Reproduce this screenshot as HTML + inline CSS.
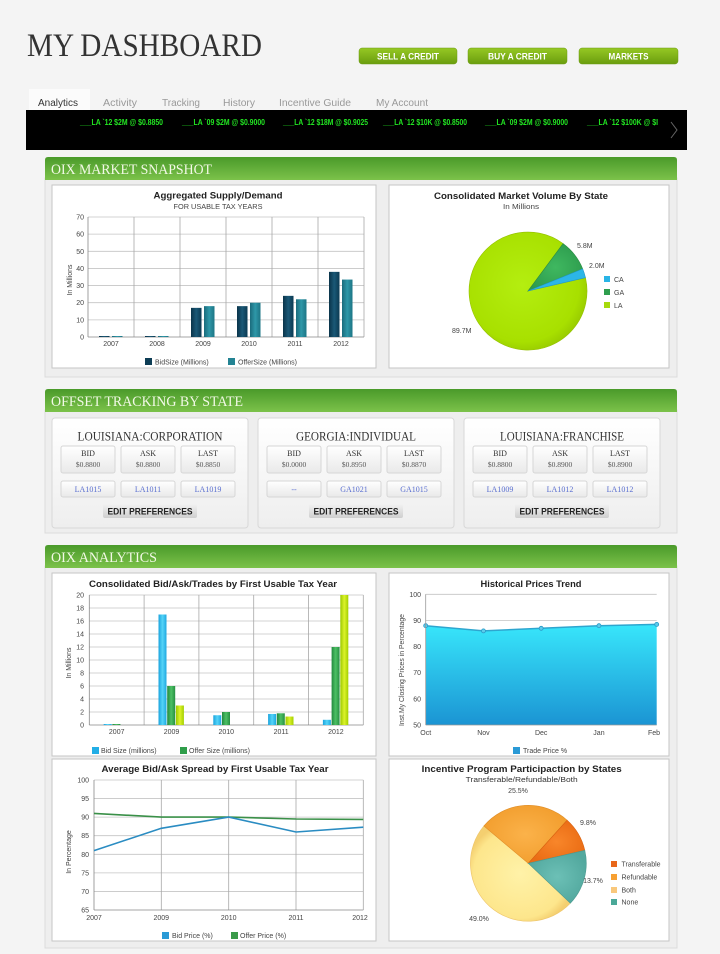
<!DOCTYPE html>
<html><head><meta charset="utf-8"><title>My Dashboard</title>
<style>
html,body{margin:0;padding:0;background:#f4f4f4;}
body{width:720px;height:954px;overflow:hidden;}
svg{display:block;}
.s{font-family:"Liberation Sans",Arial,sans-serif;}
.r{font-family:"Liberation Serif","Times New Roman",serif;}
.tk{font-family:"Liberation Sans",Arial,sans-serif;font-size:7px;fill:#444;}
.ct{font-family:"Liberation Sans",Arial,sans-serif;font-size:9.5px;font-weight:bold;fill:#222;}
</style></head>
<body>
<svg width="720" height="954" viewBox="0 0 720 954" xmlns="http://www.w3.org/2000/svg">
<defs>
<linearGradient id="hdr" x1="0" y1="0" x2="0" y2="1"><stop offset="0" stop-color="#4a9a2a"/><stop offset="1" stop-color="#7cc24a"/></linearGradient>
<linearGradient id="btn" x1="0" y1="0" x2="0" y2="1"><stop offset="0" stop-color="#96c824"/><stop offset="1" stop-color="#6a9d0e"/></linearGradient>
<linearGradient id="card" x1="0" y1="0" x2="0" y2="1"><stop offset="0" stop-color="#ffffff"/><stop offset="1" stop-color="#eeeeee"/></linearGradient>
<linearGradient id="mini" x1="0" y1="0" x2="0" y2="1"><stop offset="0" stop-color="#ffffff"/><stop offset="1" stop-color="#e9e9e9"/></linearGradient>
<linearGradient id="edit" x1="0" y1="0" x2="0" y2="1"><stop offset="0" stop-color="#f2f2f2"/><stop offset="1" stop-color="#cfcfcf"/></linearGradient>
<linearGradient id="area" x1="0" y1="0" x2="0" y2="1"><stop offset="0" stop-color="#38e6fb"/><stop offset="1" stop-color="#1b94d3"/></linearGradient>
<linearGradient id="gNavy" x1="0" y1="0" x2="1" y2="0"><stop offset="0" stop-color="#0a344a"/><stop offset="0.5" stop-color="#1a5876"/><stop offset="1" stop-color="#0b3a52"/></linearGradient>
<linearGradient id="gTeal" x1="0" y1="0" x2="1" y2="0"><stop offset="0" stop-color="#1a6b7c"/><stop offset="0.5" stop-color="#2e97a8"/><stop offset="1" stop-color="#1d7585"/></linearGradient>
<linearGradient id="gCyan" x1="0" y1="0" x2="1" y2="0"><stop offset="0" stop-color="#1aa3dd"/><stop offset="0.5" stop-color="#55d4f8"/><stop offset="1" stop-color="#1ea8e0"/></linearGradient>
<linearGradient id="gGreen" x1="0" y1="0" x2="1" y2="0"><stop offset="0" stop-color="#23893e"/><stop offset="0.5" stop-color="#4cc064"/><stop offset="1" stop-color="#268f42"/></linearGradient>
<linearGradient id="gYel" x1="0" y1="0" x2="1" y2="0"><stop offset="0" stop-color="#9cc800"/><stop offset="0.5" stop-color="#dcf22a"/><stop offset="1" stop-color="#a3cf00"/></linearGradient>
<radialGradient id="pLA" cx="0.45" cy="0.45" r="0.6"><stop offset="0" stop-color="#b4ee10"/><stop offset="0.8" stop-color="#a8e000"/><stop offset="1" stop-color="#94c600"/></radialGradient>
<radialGradient id="pGA" cx="0.5" cy="0.5" r="0.6"><stop offset="0" stop-color="#3fb860"/><stop offset="1" stop-color="#2c9a4c"/></radialGradient>
<radialGradient id="pBoth" cx="0.5" cy="0.5" r="0.55"><stop offset="0" stop-color="#fff2a8"/><stop offset="0.85" stop-color="#fde68c"/><stop offset="1" stop-color="#f4cf70"/></radialGradient>
<radialGradient id="pRef" cx="0.5" cy="0.5" r="0.55"><stop offset="0" stop-color="#fbb24a"/><stop offset="1" stop-color="#f29e2e"/></radialGradient>
<radialGradient id="pTr" cx="0.5" cy="0.5" r="0.55"><stop offset="0" stop-color="#f8862a"/><stop offset="1" stop-color="#ea6c14"/></radialGradient>
<radialGradient id="pNone" cx="0.5" cy="0.5" r="0.55"><stop offset="0" stop-color="#6cc0b6"/><stop offset="1" stop-color="#52a89e"/></radialGradient>
<clipPath id="tick"><rect x="26" y="110" width="640" height="40"/></clipPath>
</defs>

<rect x="0" y="0" width="720" height="954" fill="#f4f4f4"/>

<!-- Title -->
<text x="27" y="56" class="r" font-size="33" fill="#333" textLength="235" lengthAdjust="spacingAndGlyphs">MY DASHBOARD</text>

<!-- Buttons -->
<rect x="359" y="48" width="98" height="16" rx="3" fill="url(#btn)" stroke="#6b9a12" stroke-width="0.5"/>
<rect x="468" y="48" width="99" height="16" rx="3" fill="url(#btn)" stroke="#6b9a12" stroke-width="0.5"/>
<rect x="579" y="48" width="99" height="16" rx="3" fill="url(#btn)" stroke="#6b9a12" stroke-width="0.5"/>
<g class="s" font-size="9" font-weight="bold" fill="#fff" text-anchor="middle">
<text x="408" y="59.5" textLength="62" lengthAdjust="spacingAndGlyphs">SELL A CREDIT</text>
<text x="517.5" y="59.5" textLength="59" lengthAdjust="spacingAndGlyphs">BUY A CREDIT</text>
<text x="628.5" y="59.5" textLength="40" lengthAdjust="spacingAndGlyphs">MARKETS</text>
</g>

<!-- Tabs -->
<rect x="29" y="89" width="61" height="22" fill="#fbfbfb"/>
<g class="s" font-size="10">
<text x="38" y="106" fill="#333" textLength="40" lengthAdjust="spacingAndGlyphs">Analytics</text>
<text x="103" y="106" fill="#999" textLength="34" lengthAdjust="spacingAndGlyphs">Activity</text>
<text x="162" y="106" fill="#999" textLength="38" lengthAdjust="spacingAndGlyphs">Tracking</text>
<text x="223" y="106" fill="#999" textLength="32" lengthAdjust="spacingAndGlyphs">History</text>
<text x="279" y="106" fill="#999" textLength="72" lengthAdjust="spacingAndGlyphs">Incentive Guide</text>
<text x="376" y="106" fill="#999" textLength="52" lengthAdjust="spacingAndGlyphs">My Account</text>
</g>

<!-- Ticker -->
<rect x="26" y="110" width="661" height="40" fill="#000"/>
<g class="s" font-size="8.5" font-weight="bold" fill="#22e622" clip-path="url(#tick)">
<text x="80" y="125" textLength="83" lengthAdjust="spacingAndGlyphs">___LA `12 $2M @ $0.8850</text>
<text x="182" y="125" textLength="83" lengthAdjust="spacingAndGlyphs">___LA `09 $2M @ $0.9000</text>
<text x="283" y="125" textLength="85" lengthAdjust="spacingAndGlyphs">___LA `12 $18M @ $0.9025</text>
<text x="383" y="125" textLength="84" lengthAdjust="spacingAndGlyphs">___LA `12 $10K @ $0.8500</text>
<text x="485" y="125" textLength="83" lengthAdjust="spacingAndGlyphs">___LA `09 $2M @ $0.9000</text>
<text x="587" y="125" textLength="71" lengthAdjust="spacingAndGlyphs">___LA `12 $100K @ $I</text>
</g>
<polyline points="671,122 677,130 671,138" fill="none" stroke="#666" stroke-width="1"/>

<!-- ========== PANEL 1 ========== -->
<rect x="45" y="178" width="632" height="199" fill="#eeeeee" stroke="#dcdcdc"/>
<path d="M45,180 V160 Q45,157 48,157 H674 Q677,157 677,160 V180 Z" fill="url(#hdr)"/>
<text x="51" y="174" class="r" font-size="15" fill="#f2f9e6" textLength="161" lengthAdjust="spacingAndGlyphs">OIX MARKET SNAPSHOT</text>

<!-- Chart A -->
<rect x="52" y="185" width="324" height="183" fill="#fff" stroke="#c6c6c6"/>
<text x="218" y="198.5" class="ct" text-anchor="middle" textLength="129" lengthAdjust="spacingAndGlyphs">Aggregated Supply/Demand</text>
<text x="218" y="209" class="s" font-size="7" fill="#444" text-anchor="middle" textLength="89" lengthAdjust="spacingAndGlyphs">FOR USABLE TAX YEARS</text>
<g stroke="#c4c4c4" stroke-width="0.8">
<line x1="88" y1="217" x2="364" y2="217"/><line x1="88" y1="234.14" x2="364" y2="234.14"/><line x1="88" y1="251.29" x2="364" y2="251.29"/><line x1="88" y1="268.43" x2="364" y2="268.43"/><line x1="88" y1="285.57" x2="364" y2="285.57"/><line x1="88" y1="302.71" x2="364" y2="302.71"/><line x1="88" y1="319.86" x2="364" y2="319.86"/>
</g>
<g stroke="#a8a8a8" stroke-width="0.8">
<line x1="134" y1="217" x2="134" y2="337"/><line x1="180" y1="217" x2="180" y2="337"/><line x1="226" y1="217" x2="226" y2="337"/><line x1="272" y1="217" x2="272" y2="337"/><line x1="318" y1="217" x2="318" y2="337"/><line x1="364" y1="217" x2="364" y2="337"/>
</g>
<line x1="88" y1="217" x2="88" y2="337" stroke="#888" stroke-width="0.8"/>
<line x1="88" y1="337" x2="364" y2="337" stroke="#888" stroke-width="0.8"/>
<g class="tk" text-anchor="end">
<text x="84" y="339.5">0</text><text x="84" y="322.4">10</text><text x="84" y="305.2">20</text><text x="84" y="288.1">30</text><text x="84" y="270.9">40</text><text x="84" y="253.8">50</text><text x="84" y="236.6">60</text><text x="84" y="219.5">70</text>
</g>
<text transform="translate(72,280) rotate(-90)" class="tk" text-anchor="middle" font-size="6.5">In Millions</text>
<g>
<rect x="99" y="336" width="10.5" height="1" fill="url(#gNavy)"/><rect x="112" y="336" width="10.5" height="1" fill="url(#gTeal)"/>
<rect x="145" y="336" width="10.5" height="1" fill="url(#gNavy)"/><rect x="158" y="336" width="10.5" height="1" fill="url(#gTeal)"/>
<rect x="191" y="307.86" width="10.5" height="29.14" fill="url(#gNavy)"/><rect x="204" y="306.14" width="10.5" height="30.86" fill="url(#gTeal)"/>
<rect x="237" y="306.14" width="10.5" height="30.86" fill="url(#gNavy)"/><rect x="250" y="302.71" width="10.5" height="34.29" fill="url(#gTeal)"/>
<rect x="283" y="295.86" width="10.5" height="41.14" fill="url(#gNavy)"/><rect x="296" y="299.29" width="10.5" height="37.71" fill="url(#gTeal)"/>
<rect x="329" y="271.86" width="10.5" height="65.14" fill="url(#gNavy)"/><rect x="342" y="279.57" width="10.5" height="57.43" fill="url(#gTeal)"/>
</g>
<g class="tk" text-anchor="middle">
<text x="111" y="346">2007</text><text x="157" y="346">2008</text><text x="203" y="346">2009</text><text x="249" y="346">2010</text><text x="295" y="346">2011</text><text x="341" y="346">2012</text>
</g>
<rect x="145" y="358" width="7" height="7" fill="#0d3d55"/>
<text x="155" y="364.5" class="tk" font-size="6.5">BidSize (Millions)</text>
<rect x="228" y="358" width="7" height="7" fill="#238393"/>
<text x="238" y="364.5" class="tk" font-size="6.5">OfferSize (Millions)</text>

<!-- Chart B -->
<rect x="389" y="185" width="280" height="183" fill="#fff" stroke="#c6c6c6"/>
<text x="521" y="199" class="ct" text-anchor="middle" textLength="174" lengthAdjust="spacingAndGlyphs">Consolidated Market Volume By State</text>
<text x="521" y="209" class="s" font-size="7" fill="#444" text-anchor="middle" textLength="36" lengthAdjust="spacingAndGlyphs">In Millions</text>
<path d="M528,291 L563.1,243.6 A59,59 0 1 0 585.5,277.7 Z" fill="url(#pLA)" stroke="#94c000" stroke-width="0.6"/>
<path d="M528,291 L582.7,268.9 A59,59 0 0 0 563.1,243.6 Z" fill="url(#pGA)" stroke="#2a8c44" stroke-width="0.6"/>
<path d="M528,291 L585.5,277.7 A59,59 0 0 0 582.7,268.9 Z" fill="#2cb6e8" stroke="#2298c8" stroke-width="0.6"/>
<g class="tk" font-size="6.5">
<text x="577" y="248">5.8M</text><text x="589" y="268">2.0M</text><text x="452" y="333">89.7M</text>
</g>
<rect x="604" y="276" width="6" height="6" fill="#29b4e6"/>
<rect x="604" y="289" width="6" height="6" fill="#2f9e4e"/>
<rect x="604" y="302" width="6" height="6" fill="#a6da0c"/>
<g class="tk" font-size="6.5">
<text x="614" y="282">CA</text><text x="614" y="295">GA</text><text x="614" y="308">LA</text>
</g>

<!-- ========== PANEL 2 ========== -->
<rect x="45" y="410" width="632" height="123" fill="#eeeeee" stroke="#dcdcdc"/>
<path d="M45,412 V392 Q45,389 48,389 H674 Q677,389 677,392 V412 Z" fill="url(#hdr)"/>
<text x="51" y="406" class="r" font-size="15" fill="#f2f9e6" textLength="192" lengthAdjust="spacingAndGlyphs">OFFSET TRACKING BY STATE</text>

<!-- Card 1 -->
<g>
<rect x="52" y="418" width="196" height="110" rx="3" fill="url(#card)" stroke="#d8d8d8"/>
<text x="150" y="440.5" class="r" font-size="12.5" fill="#333" text-anchor="middle" textLength="145" lengthAdjust="spacingAndGlyphs">LOUISIANA:CORPORATION</text>
<rect x="61" y="446" width="54" height="27" rx="2" fill="url(#mini)" stroke="#d6d6d6"/>
<rect x="121" y="446" width="54" height="27" rx="2" fill="url(#mini)" stroke="#d6d6d6"/>
<rect x="181" y="446" width="54" height="27" rx="2" fill="url(#mini)" stroke="#d6d6d6"/>
<g class="r" text-anchor="middle" fill="#333">
<text x="88" y="456" font-size="8">BID</text><text x="148" y="456" font-size="8">ASK</text><text x="208" y="456" font-size="8">LAST</text>
<text x="88" y="467" font-size="7.5" fill="#555">$0.8800</text><text x="148" y="467" font-size="7.5" fill="#555">$0.8800</text><text x="208" y="467" font-size="7.5" fill="#555">$0.8850</text>
</g>
<rect x="61" y="481" width="54" height="16" rx="2" fill="url(#mini)" stroke="#d6d6d6"/>
<rect x="121" y="481" width="54" height="16" rx="2" fill="url(#mini)" stroke="#d6d6d6"/>
<rect x="181" y="481" width="54" height="16" rx="2" fill="url(#mini)" stroke="#d6d6d6"/>
<g class="r" text-anchor="middle" fill="#5a6fd0" font-size="8">
<text x="88" y="492">LA1015</text><text x="148" y="492">LA1011</text><text x="208" y="492">LA1019</text>
</g>
<rect x="103" y="504" width="94" height="14" rx="2" fill="url(#edit)"/>
<text x="150" y="514.5" class="s" font-size="9" font-weight="bold" fill="#222" text-anchor="middle" textLength="85" lengthAdjust="spacingAndGlyphs">EDIT PREFERENCES</text>
</g>

<!-- Card 2 -->
<g>
<rect x="258" y="418" width="196" height="110" rx="3" fill="url(#card)" stroke="#d8d8d8"/>
<text x="356" y="440.5" class="r" font-size="12.5" fill="#333" text-anchor="middle" textLength="120" lengthAdjust="spacingAndGlyphs">GEORGIA:INDIVIDUAL</text>
<rect x="267" y="446" width="54" height="27" rx="2" fill="url(#mini)" stroke="#d6d6d6"/>
<rect x="327" y="446" width="54" height="27" rx="2" fill="url(#mini)" stroke="#d6d6d6"/>
<rect x="387" y="446" width="54" height="27" rx="2" fill="url(#mini)" stroke="#d6d6d6"/>
<g class="r" text-anchor="middle" fill="#333">
<text x="294" y="456" font-size="8">BID</text><text x="354" y="456" font-size="8">ASK</text><text x="414" y="456" font-size="8">LAST</text>
<text x="294" y="467" font-size="7.5" fill="#555">$0.0000</text><text x="354" y="467" font-size="7.5" fill="#555">$0.8950</text><text x="414" y="467" font-size="7.5" fill="#555">$0.8870</text>
</g>
<rect x="267" y="481" width="54" height="16" rx="2" fill="url(#mini)" stroke="#d6d6d6"/>
<rect x="327" y="481" width="54" height="16" rx="2" fill="url(#mini)" stroke="#d6d6d6"/>
<rect x="387" y="481" width="54" height="16" rx="2" fill="url(#mini)" stroke="#d6d6d6"/>
<g class="r" text-anchor="middle" fill="#5a6fd0" font-size="8">
<text x="294" y="492">--</text><text x="354" y="492">GA1021</text><text x="414" y="492">GA1015</text>
</g>
<rect x="309" y="504" width="94" height="14" rx="2" fill="url(#edit)"/>
<text x="356" y="514.5" class="s" font-size="9" font-weight="bold" fill="#222" text-anchor="middle" textLength="85" lengthAdjust="spacingAndGlyphs">EDIT PREFERENCES</text>
</g>

<!-- Card 3 -->
<g>
<rect x="464" y="418" width="196" height="110" rx="3" fill="url(#card)" stroke="#d8d8d8"/>
<text x="562" y="440.5" class="r" font-size="12.5" fill="#333" text-anchor="middle" textLength="124" lengthAdjust="spacingAndGlyphs">LOUISIANA:FRANCHISE</text>
<rect x="473" y="446" width="54" height="27" rx="2" fill="url(#mini)" stroke="#d6d6d6"/>
<rect x="533" y="446" width="54" height="27" rx="2" fill="url(#mini)" stroke="#d6d6d6"/>
<rect x="593" y="446" width="54" height="27" rx="2" fill="url(#mini)" stroke="#d6d6d6"/>
<g class="r" text-anchor="middle" fill="#333">
<text x="500" y="456" font-size="8">BID</text><text x="560" y="456" font-size="8">ASK</text><text x="620" y="456" font-size="8">LAST</text>
<text x="500" y="467" font-size="7.5" fill="#555">$0.8800</text><text x="560" y="467" font-size="7.5" fill="#555">$0.8900</text><text x="620" y="467" font-size="7.5" fill="#555">$0.8900</text>
</g>
<rect x="473" y="481" width="54" height="16" rx="2" fill="url(#mini)" stroke="#d6d6d6"/>
<rect x="533" y="481" width="54" height="16" rx="2" fill="url(#mini)" stroke="#d6d6d6"/>
<rect x="593" y="481" width="54" height="16" rx="2" fill="url(#mini)" stroke="#d6d6d6"/>
<g class="r" text-anchor="middle" fill="#5a6fd0" font-size="8">
<text x="500" y="492">LA1009</text><text x="560" y="492">LA1012</text><text x="620" y="492">LA1012</text>
</g>
<rect x="515" y="504" width="94" height="14" rx="2" fill="url(#edit)"/>
<text x="562" y="514.5" class="s" font-size="9" font-weight="bold" fill="#222" text-anchor="middle" textLength="85" lengthAdjust="spacingAndGlyphs">EDIT PREFERENCES</text>
</g>

<!-- ========== PANEL 3 ========== -->
<rect x="45" y="566" width="632" height="382" fill="#eeeeee" stroke="#dcdcdc"/>
<path d="M45,568 V548 Q45,545 48,545 H674 Q677,545 677,548 V568 Z" fill="url(#hdr)"/>
<text x="51" y="562" class="r" font-size="15" fill="#f2f9e6" textLength="106" lengthAdjust="spacingAndGlyphs">OIX ANALYTICS</text>

<!-- Chart C -->
<rect x="52" y="573" width="324" height="183" fill="#fff" stroke="#c6c6c6"/>
<text x="213" y="587" class="ct" text-anchor="middle" textLength="248" lengthAdjust="spacingAndGlyphs">Consolidated Bid/Ask/Trades by First Usable Tax Year</text>
<g stroke="#c4c4c4" stroke-width="0.8">
<line x1="89.3" y1="595" x2="363.3" y2="595"/><line x1="89.3" y1="608" x2="363.3" y2="608"/><line x1="89.3" y1="621" x2="363.3" y2="621"/><line x1="89.3" y1="634" x2="363.3" y2="634"/><line x1="89.3" y1="647" x2="363.3" y2="647"/><line x1="89.3" y1="660" x2="363.3" y2="660"/><line x1="89.3" y1="673" x2="363.3" y2="673"/><line x1="89.3" y1="686" x2="363.3" y2="686"/><line x1="89.3" y1="699" x2="363.3" y2="699"/><line x1="89.3" y1="712" x2="363.3" y2="712"/>
</g>
<g stroke="#a8a8a8" stroke-width="0.8">
<line x1="144.1" y1="595" x2="144.1" y2="725"/><line x1="198.9" y1="595" x2="198.9" y2="725"/><line x1="253.7" y1="595" x2="253.7" y2="725"/><line x1="308.5" y1="595" x2="308.5" y2="725"/><line x1="363.3" y1="595" x2="363.3" y2="725"/>
</g>
<line x1="89.3" y1="595" x2="89.3" y2="725" stroke="#888" stroke-width="0.8"/>
<line x1="89.3" y1="725" x2="363.3" y2="725" stroke="#888" stroke-width="0.8"/>
<g class="tk" text-anchor="end" font-size="6.5">
<text x="84" y="727.5">0</text><text x="84" y="714.5">2</text><text x="84" y="701.5">4</text><text x="84" y="688.5">6</text><text x="84" y="675.5">8</text><text x="84" y="662.5">10</text><text x="84" y="649.5">12</text><text x="84" y="636.5">14</text><text x="84" y="623.5">16</text><text x="84" y="610.5">18</text><text x="84" y="597.5">20</text>
</g>
<text transform="translate(71,663) rotate(-90)" class="tk" text-anchor="middle" font-size="6.5">In Millions</text>
<g>
<rect x="103.7" y="724" width="8" height="1" fill="url(#gCyan)"/><rect x="112.4" y="724" width="8" height="1" fill="url(#gGreen)"/>
<rect x="158.5" y="614.5" width="8" height="110.5" fill="url(#gCyan)"/><rect x="167.2" y="686" width="8" height="39" fill="url(#gGreen)"/><rect x="175.9" y="705.5" width="8" height="19.5" fill="url(#gYel)"/>
<rect x="213.3" y="715.25" width="8" height="9.75" fill="url(#gCyan)"/><rect x="222" y="712" width="8" height="13" fill="url(#gGreen)"/>
<rect x="268.1" y="713.95" width="8" height="11.05" fill="url(#gCyan)"/><rect x="276.8" y="713.3" width="8" height="11.7" fill="url(#gGreen)"/><rect x="285.5" y="716.55" width="8" height="8.45" fill="url(#gYel)"/>
<rect x="322.9" y="719.8" width="8" height="5.2" fill="url(#gCyan)"/><rect x="331.6" y="647" width="8" height="78" fill="url(#gGreen)"/><rect x="340.3" y="595" width="8" height="130" fill="url(#gYel)"/>
</g>
<g class="tk" text-anchor="middle" font-size="6.5">
<text x="116.7" y="734">2007</text><text x="171.5" y="734">2009</text><text x="226.3" y="734">2010</text><text x="281.1" y="734">2011</text><text x="335.9" y="734">2012</text>
</g>
<rect x="92" y="747" width="7" height="7" fill="#22aee6"/>
<text x="101" y="753" class="tk" font-size="6.5">Bid Size (millions)</text>
<rect x="180" y="747" width="7" height="7" fill="#2f9e4a"/>
<text x="189" y="753" class="tk" font-size="6.5">Offer Size (millions)</text>

<!-- Chart D -->
<rect x="389" y="573" width="280" height="183" fill="#fff" stroke="#c6c6c6"/>
<text x="531" y="587" class="ct" text-anchor="middle" textLength="101" lengthAdjust="spacingAndGlyphs">Historical Prices Trend</text>
<g stroke="#c4c4c4" stroke-width="0.8">
<line x1="425.7" y1="594.3" x2="656.7" y2="594.3"/><line x1="425.7" y1="620.4" x2="656.7" y2="620.4"/>
</g>
<path d="M425.7,625.7 L483.45,630.9 L541.2,628.3 L598.95,625.7 L656.7,624.4 L656.7,725 L425.7,725 Z" fill="url(#area)"/>
<polyline points="425.7,625.7 483.45,630.9 541.2,628.3 598.95,625.7 656.7,624.4" fill="none" stroke="#2ea6cf" stroke-width="1.5"/>
<g fill="#5ccbea" stroke="#2a98c6" stroke-width="0.8">
<circle cx="425.7" cy="625.7" r="2"/><circle cx="483.45" cy="630.9" r="2"/><circle cx="541.2" cy="628.3" r="2"/><circle cx="598.95" cy="625.7" r="2"/><circle cx="656.7" cy="624.4" r="2"/>
</g>
<line x1="425.7" y1="594.3" x2="425.7" y2="725" stroke="#999" stroke-width="0.8"/>
<line x1="425.7" y1="725" x2="656.7" y2="725" stroke="#999" stroke-width="0.8"/>
<g class="tk" text-anchor="end" font-size="6.5">
<text x="421" y="596.8">100</text><text x="421" y="622.9">90</text><text x="421" y="649">80</text><text x="421" y="675.2">70</text><text x="421" y="701.3">60</text><text x="421" y="727.5">50</text>
</g>
<text transform="translate(404,670) rotate(-90)" class="tk" text-anchor="middle" font-size="6" textLength="112" lengthAdjust="spacingAndGlyphs">Inst.My Closing Prices in Percentage</text>
<g class="tk" text-anchor="middle" font-size="6.5">
<text x="425.7" y="735">Oct</text><text x="483.45" y="735">Nov</text><text x="541.2" y="735">Dec</text><text x="598.95" y="735">Jan</text><text x="654" y="735">Feb</text>
</g>
<rect x="513" y="747" width="7" height="7" fill="#2a9ad6"/>
<text x="523" y="753" class="tk" font-size="6.5">Trade Price %</text>

<!-- Chart E -->
<rect x="52" y="759" width="324" height="182" fill="#fff" stroke="#c6c6c6"/>
<text x="215" y="772" class="ct" text-anchor="middle" textLength="227" lengthAdjust="spacingAndGlyphs">Average Bid/Ask Spread by First Usable Tax Year</text>
<g stroke="#c4c4c4" stroke-width="0.8">
<line x1="94" y1="780" x2="363.3" y2="780"/><line x1="94" y1="798.57" x2="363.3" y2="798.57"/><line x1="94" y1="817.14" x2="363.3" y2="817.14"/><line x1="94" y1="835.71" x2="363.3" y2="835.71"/><line x1="94" y1="854.29" x2="363.3" y2="854.29"/><line x1="94" y1="872.86" x2="363.3" y2="872.86"/><line x1="94" y1="891.43" x2="363.3" y2="891.43"/>
</g>
<g stroke="#a8a8a8" stroke-width="0.8">
<line x1="161.3" y1="780" x2="161.3" y2="910"/><line x1="228.7" y1="780" x2="228.7" y2="910"/><line x1="296" y1="780" x2="296" y2="910"/><line x1="363.3" y1="780" x2="363.3" y2="910"/>
</g>
<line x1="94" y1="780" x2="94" y2="910" stroke="#888" stroke-width="0.8"/>
<line x1="94" y1="910" x2="363.3" y2="910" stroke="#888" stroke-width="0.8"/>
<polyline points="94,813.4 161.3,817.1 228.7,817.1 296,819 363.3,819.4" fill="none" stroke="#3a9048" stroke-width="1.6"/>
<polyline points="94,850.6 161.3,828.3 228.7,817.1 296,832 363.3,827.2" fill="none" stroke="#2a8cc2" stroke-width="1.6"/>
<g class="tk" text-anchor="end" font-size="6.5">
<text x="89" y="782.5">100</text><text x="89" y="801">95</text><text x="89" y="819.6">90</text><text x="89" y="838.2">85</text><text x="89" y="856.8">80</text><text x="89" y="875.4">75</text><text x="89" y="893.9">70</text><text x="89" y="912.5">65</text>
</g>
<text transform="translate(71,852) rotate(-90)" class="tk" text-anchor="middle" font-size="6">In Percentage</text>
<g class="tk" text-anchor="middle" font-size="6.5">
<text x="94" y="920">2007</text><text x="161.3" y="920">2009</text><text x="228.7" y="920">2010</text><text x="296" y="920">2011</text><text x="360" y="920">2012</text>
</g>
<rect x="162" y="932" width="7" height="7" fill="#2a9ad6"/>
<text x="172" y="938" class="tk" font-size="6.5">Bid Price (%)</text>
<rect x="231" y="932" width="7" height="7" fill="#3a9a4a"/>
<text x="240" y="938" class="tk" font-size="6.5">Offer Price (%)</text>

<!-- Chart F -->
<rect x="389" y="759" width="280" height="182" fill="#fff" stroke="#c6c6c6"/>
<text x="521.7" y="772" class="ct" text-anchor="middle" textLength="200" lengthAdjust="spacingAndGlyphs">Incentive Program Participaction by States</text>
<text x="521.7" y="782" class="s" font-size="7" fill="#333" text-anchor="middle" textLength="112" lengthAdjust="spacingAndGlyphs">Transferable/Refundable/Both</text>
<path d="M528.3,863.3 L483.9,826 A58,58 0 0 0 570.4,903.2 Z" fill="url(#pBoth)" stroke="#eec56a" stroke-width="0.6"/>
<path d="M528.3,863.3 L567.1,820.2 A58,58 0 0 0 483.9,826 Z" fill="url(#pRef)" stroke="#e08e28" stroke-width="0.6"/>
<path d="M528.3,863.3 L584.8,850.3 A58,58 0 0 0 567.1,820.2 Z" fill="url(#pTr)" stroke="#d86010" stroke-width="0.6"/>
<path d="M528.3,863.3 L570.4,903.2 A58,58 0 0 0 584.8,850.3 Z" fill="url(#pNone)" stroke="#4a9a90" stroke-width="0.6"/>
<g class="tk" font-size="6.5" text-anchor="middle">
<text x="518" y="793">25.5%</text><text x="588" y="825">9.8%</text><text x="593" y="883">13.7%</text><text x="479" y="921">49.0%</text>
</g>
<rect x="611" y="861" width="6" height="6" fill="#e8671a"/>
<rect x="611" y="874" width="6" height="6" fill="#f7a032"/>
<rect x="611" y="887" width="6" height="6" fill="#f9c87c"/>
<rect x="611" y="899" width="6" height="6" fill="#4aa898"/>
<g class="tk" font-size="6.5">
<text x="621.5" y="866.5">Transferable</text><text x="621.5" y="879.5">Refundable</text><text x="621.5" y="892.5">Both</text><text x="621.5" y="904.5">None</text>
</g>
</svg>
</body></html>
